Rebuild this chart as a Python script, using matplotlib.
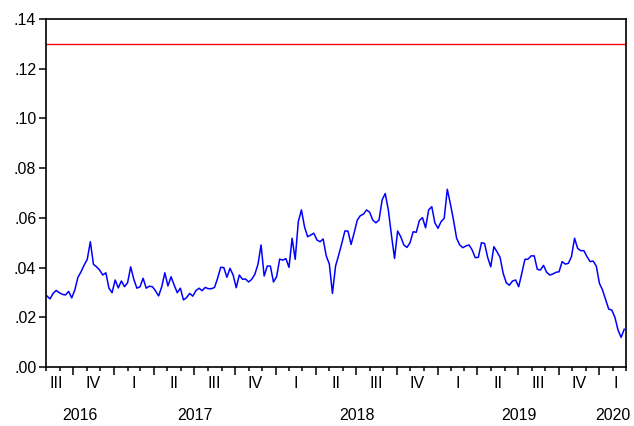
import numpy as np
import pandas as pd
import matplotlib
matplotlib.use("Agg")
import matplotlib.pyplot as plt
import matplotlib.dates as mdates
from matplotlib.ticker import FuncFormatter

plt.rcParams['font.family'] = ['Liberation Sans', 'DejaVu Sans']

# weekly series
start_date = "2016-08-03"
values = [
    0.0286, 0.0274, 0.0296, 0.0308, 0.0299, 0.0292, 0.0290, 0.0304, 0.0278, 0.0310,
    0.0361, 0.0383, 0.0410, 0.0433, 0.0504, 0.0413, 0.0403, 0.0390, 0.0370, 0.0379,
    0.0317, 0.0299, 0.0350, 0.0318, 0.0346, 0.0323, 0.0339, 0.0403, 0.0353, 0.0317,
    0.0323, 0.0357, 0.0317, 0.0325, 0.0323, 0.0306, 0.0286, 0.0323, 0.0379, 0.0326,
    0.0363, 0.0330, 0.0299, 0.0317, 0.0270, 0.0279,
    0.0296, 0.0285, 0.0307, 0.0317, 0.0307, 0.0320, 0.0315, 0.0315, 0.0320, 0.0357,
    0.0401, 0.0400, 0.0361, 0.0397, 0.0370, 0.0319, 0.0370, 0.0353, 0.0354, 0.0342,
    0.0353, 0.0373, 0.0413, 0.0491, 0.0366, 0.0406, 0.0406, 0.0342, 0.0363, 0.0434,
    0.0430, 0.0436, 0.0401, 0.0518, 0.0433, 0.0585, 0.0632, 0.0564, 0.0524, 0.0531,
    0.0538, 0.0511, 0.0504, 0.0515, 0.0447, 0.0414, 0.0296, 0.0406,
    0.0450, 0.0497, 0.0547, 0.0547, 0.0493, 0.0540, 0.0591, 0.0609, 0.0615, 0.0632,
    0.0622, 0.0591, 0.0580, 0.0591, 0.0672, 0.0698, 0.0632, 0.0531, 0.0437, 0.0547,
    0.0524, 0.0491, 0.0481, 0.0500, 0.0544, 0.0542, 0.0589, 0.0601, 0.0560, 0.0632,
    0.0645, 0.0580, 0.0558, 0.0585, 0.0598, 0.0715, 0.0656, 0.0591, 0.0518, 0.0491,
    0.0480, 0.0487, 0.0491, 0.0471, 0.0440, 0.0441,
    0.0500, 0.0497, 0.0441, 0.0403, 0.0484, 0.0464, 0.0441, 0.0377, 0.0339, 0.0329,
    0.0346, 0.0350, 0.0323, 0.0377, 0.0433, 0.0434, 0.0447, 0.0447, 0.0393, 0.0390,
    0.0409, 0.0381, 0.0370, 0.0374, 0.0381, 0.0383, 0.0424, 0.0414, 0.0417, 0.0444,
    0.0518, 0.0477, 0.0468, 0.0468, 0.0444, 0.0424, 0.0426, 0.0406, 0.0337, 0.0310,
    0.0272, 0.0233, 0.0229, 0.0200, 0.0149, 0.0119, 0.0152,
]
threshold = 0.13
y_ticks = [0.00, 0.02, 0.04, 0.06, 0.08, 0.10, 0.12, 0.14]
quarter_names = ["I", "II", "III", "IV"]
first_quarter = "2016Q3"
last_quarter = "2020Q1"
x_start = pd.Timestamp("2016-08-01")
x_end = pd.Timestamp("2020-03-01")

dates = pd.date_range(start_date, periods=len(values), freq="7D")

fig = plt.figure(figsize=(6.34, 4.26), dpi=100)
ax = fig.add_axes([46 / 634, 1 - 367 / 426, 580 / 634, 348 / 426])

ax.plot(dates, values, color="#0000ff", lw=1.1)
ax.axhline(threshold, color="red", lw=1.0)

ax.set_xlim(x_start, x_end)
ax.set_ylim(0, 0.14)
ax.set_yticks(y_ticks)
ax.yaxis.set_major_formatter(FuncFormatter(lambda v, p: f"{v:.2f}"[1:]))
ax.tick_params(axis="y", direction="out", length=5, width=1.1, labelsize=11.5, pad=2)

months = pd.date_range(x_start, x_end, freq="MS")
quarters = months[months.month.isin([1, 4, 7, 10])]
ax.set_xticks(mdates.date2num(quarters.to_pydatetime()))
ax.set_xticks(mdates.date2num(months.to_pydatetime()), minor=True)
ax.tick_params(axis="x", which="major", direction="out", length=6, width=1.1, labelbottom=False)
ax.tick_params(axis="x", which="minor", direction="out", length=3, width=1.1, labelbottom=False)

for s in ax.spines.values():
    s.set_linewidth(1.2)
    s.set_color("black")

trans = ax.get_xaxis_transform()
lo = mdates.date2num(x_start)
hi = mdates.date2num(x_end)

# quarter labels
for p in pd.period_range(first_quarter, last_quarter, freq="Q"):
    a = mdates.date2num(p.start_time)
    b = mdates.date2num(p.end_time)
    vis = (max(a, lo) + min(b, hi)) / 2
    full = (a + b) / 2
    ax.text((vis + full) / 2, -0.046, quarter_names[p.quarter - 1], transform=trans,
            ha="center", va="center", fontsize=11.5, clip_on=False)

# year labels
for yr in range(x_start.year, x_end.year + 1):
    a = max(mdates.date2num(pd.Timestamp(f"{yr}-01-01")), lo)
    b = min(mdates.date2num(pd.Timestamp(f"{yr + 1}-01-01")), hi)
    ax.text((a + b) / 2, -0.138, str(yr), transform=trans,
            ha="center", va="center", fontsize=11.5, clip_on=False)

fig.savefig("out.png", dpi=100)
